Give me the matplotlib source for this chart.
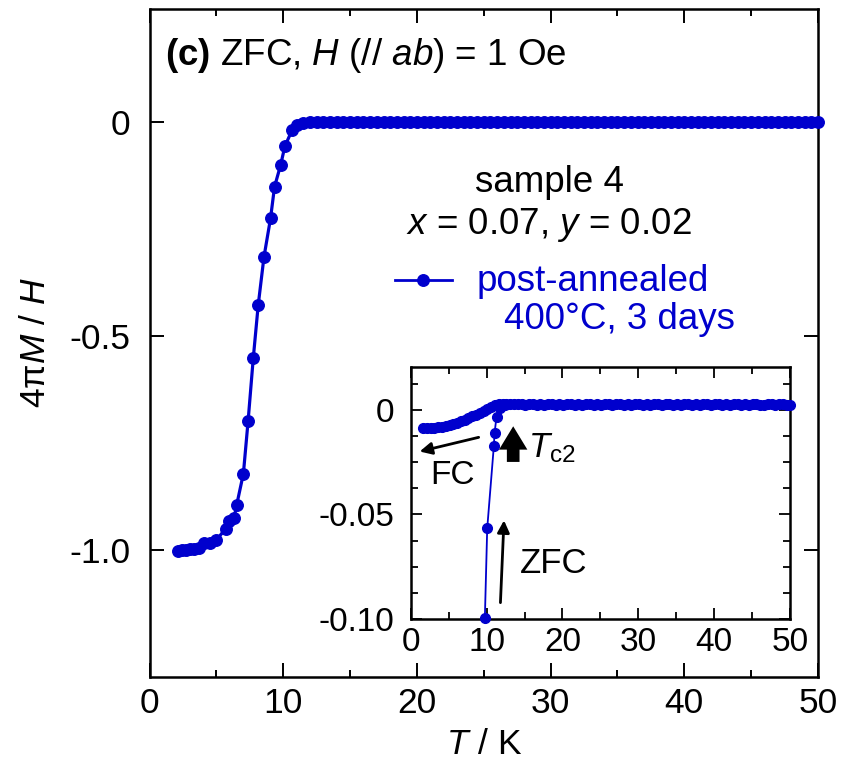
import matplotlib
matplotlib.use("Agg")
import matplotlib.pyplot as plt
from matplotlib.ticker import MultipleLocator, FixedLocator

plt.rcParams['font.family'] = ['Liberation Sans', 'DejaVu Sans']
plt.rcParams['mathtext.fontset'] = 'custom'
plt.rcParams['mathtext.rm'] = 'Liberation Sans'
plt.rcParams['mathtext.it'] = 'Liberation Sans:italic'
plt.rcParams['mathtext.bf'] = 'Liberation Sans:bold'

BLUE = '#0000cd'

# ---- main panel data (ZFC) ----
T_main = [2.1, 2.4, 2.7, 3.0, 3.3, 3.7, 4.1, 4.5, 4.96, 5.7, 5.95, 6.32, 6.52,
          7.02, 7.37, 7.76, 8.13, 8.56, 9.05, 9.35, 9.8, 10.12, 10.67, 11.04,
          11.5, 12.0, 12.5, 13.0, 13.5, 14.0, 14.5, 15.0, 15.5, 16.0, 16.5,
          17.0, 17.5, 18.0, 18.5, 19.0, 19.5, 20.0, 20.5, 21.0, 21.5, 22.0,
          22.5, 23.0, 23.5, 24.0, 24.5, 25.0, 25.5, 26.0, 26.5, 27.0, 27.5,
          28.0, 28.5, 29.0, 29.5, 30.0, 30.5, 31.0, 31.5, 32.0, 32.5, 33.0,
          33.5, 34.0, 34.5, 35.0, 35.5, 36.0, 36.5, 37.0, 37.5, 38.0, 38.5,
          39.0, 39.5, 40.0, 40.5, 41.0, 41.5, 42.0, 42.5, 43.0, 43.5, 44.0,
          44.5, 45.0, 45.5, 46.0, 46.5, 47.0, 47.5, 48.0, 48.5, 49.0, 49.5, 50.0]
M_main = [-1.003, -1.001, -1.000, -0.999, -0.997, -0.995, -0.985, -0.983,
          -0.978, -0.951, -0.933, -0.926, -0.895, -0.822, -0.700, -0.552,
          -0.428, -0.316, -0.226, -0.152, -0.102, -0.058, -0.019, -0.008,
          -0.003, -0.001, 0.000, 0.000, 0.000, 0.000, 0.000, 0.000, 0.000,
          0.000, 0.000, 0.000, 0.000, 0.000, 0.000, 0.000, 0.000, 0.000,
          0.000, 0.000, 0.000, 0.000, 0.000, 0.000, 0.000, 0.000, 0.000,
          0.000, 0.000, 0.000, 0.000, 0.000, 0.000, 0.000, 0.000, 0.000,
          0.000, 0.000, 0.000, 0.000, 0.000, 0.000, 0.000, 0.000, 0.000,
          0.000, 0.000, 0.000, 0.000, 0.000, 0.000, 0.000, 0.000, 0.000,
          0.000, 0.000, 0.000, 0.000, 0.000, 0.000, 0.000, 0.000, 0.000,
          0.000, 0.000, 0.000, 0.000, 0.000, 0.000, 0.000, 0.000, 0.000,
          0.000, 0.000, 0.000, 0.000, 0.000, 0.000]

# ---- inset data ----
T_fc = [1.6, 2.1, 2.6, 3.1, 3.6, 4.1, 4.6, 5.1, 5.6, 6.1, 6.6, 7.1, 7.6, 8.1,
        8.6, 9.1, 9.6, 10.1, 10.6, 11.1, 11.6, 12.1, 12.6, 13.1, 13.6, 14.1,
        14.6, 15.1, 15.6, 16.1, 16.6, 17.1, 17.6, 18.1, 18.6, 19.1, 19.6,
        20.1, 20.6, 21.1, 21.6, 22.1, 22.6, 23.1, 23.6, 24.1, 24.6, 25.1,
        25.6, 26.1, 26.6, 27.1, 27.6, 28.1, 28.6, 29.1, 29.6, 30.1, 30.6,
        31.1, 31.6, 32.1, 32.6, 33.1, 33.6, 34.1, 34.6, 35.1, 35.6, 36.1,
        36.6, 37.1, 37.6, 38.1, 38.6, 39.1, 39.6, 40.1, 40.6, 41.1, 41.6,
        42.1, 42.6, 43.1, 43.6, 44.1, 44.6, 45.1, 45.6, 46.1, 46.6, 47.1,
        47.6, 48.1, 48.6, 49.1, 49.6, 50.0]
M_fc = [-0.0087, -0.0087, -0.0086, -0.0085, -0.0084, -0.0081, -0.0078,
        -0.0073, -0.0067, -0.0061, -0.0054, -0.0046, -0.0039, -0.0031,
        -0.0024, -0.0016, -0.0007, 0.0004, 0.0014, 0.0022, 0.0027, 0.0029,
        0.0030, 0.0028, 0.0027, 0.0026, 0.0027, 0.0025, 0.0026, 0.0027,
        0.0025, 0.0026, 0.0024, 0.0026, 0.0027, 0.0025, 0.0026, 0.0025,
        0.0027, 0.0026, 0.0025, 0.0026, 0.0024, 0.0026, 0.0027, 0.0025,
        0.0026, 0.0025, 0.0027, 0.0026, 0.0025, 0.0026, 0.0027, 0.0025,
        0.0026, 0.0024, 0.0026, 0.0027, 0.0025, 0.0026, 0.0025, 0.0027,
        0.0026, 0.0025, 0.0026, 0.0027, 0.0025, 0.0026, 0.0024, 0.0026,
        0.0027, 0.0025, 0.0026, 0.0025, 0.0027, 0.0026, 0.0025, 0.0026,
        0.0027, 0.0025, 0.0026, 0.0024, 0.0026, 0.0027, 0.0025, 0.0026,
        0.0025, 0.0027, 0.0026, 0.0025, 0.0024, 0.0026, 0.0027, 0.0025,
        0.0026, 0.0027, 0.0025, 0.0024]
T_zfc = [9.76, 10.07, 10.95, 11.04, 11.3, 11.8, 12.4]
M_zfc = [-0.0997, -0.0567, -0.0171, -0.0111, -0.0032, 0.0010, 0.0025]

main_yticks = [0.0, -0.5, -1.0]
main_yticklabels = ['0', '-0.5', '-1.0']
inset_yticks = [0.0, -0.05, -0.10]
inset_yticklabels = ['0', '-0.05', '-0.10']

FS = 25.5     # tick labels / axis labels
FT = 26.5     # annotations in main panel
FI = 24       # inset texts

fig = plt.figure(figsize=(8.42, 7.76), dpi=100)
ax = fig.add_axes([0.1776, 0.1276, 0.7939, 0.8608])

ax.plot(T_main, M_main, '-', color=BLUE, lw=2.3, marker='o', ms=8.3,
        mec=BLUE, mfc=BLUE, clip_on=False, zorder=3)
ax.set_xlim(0, 50)
ax.set_ylim(-1.297, 0.263)
ax.xaxis.set_major_locator(MultipleLocator(10))
ax.xaxis.set_minor_locator(MultipleLocator(5))
ax.yaxis.set_major_locator(FixedLocator(main_yticks))
ax.set_yticklabels(main_yticklabels)
ax.tick_params(which='both', direction='in', top=True, right=True,
               labelsize=FS, width=1.4)
ax.tick_params(which='major', length=10)
ax.tick_params(which='minor', length=5)
ax.tick_params(axis='x', pad=7)
ax.tick_params(axis='y', pad=14)
for s in ax.spines.values():
    s.set_linewidth(1.8)
ax.set_xlabel(r'$T$ / K', fontsize=FS, labelpad=6)
ax.set_ylabel(r'4π$M$ / $H$', fontsize=FS, labelpad=12)

ax.text(0.023, 0.931, r'$\mathbf{(c)}$ ZFC, $H$ ($//$ $ab$) = 1 Oe',
        transform=ax.transAxes, fontsize=FT, va='center', ha='left')
ax.text(0.598, 0.74, 'sample 4', transform=ax.transAxes, fontsize=FT,
        ha='center', va='center')
ax.text(0.598, 0.677, r'$x$ = 0.07, $y$ = 0.02', transform=ax.transAxes,
        fontsize=FT, ha='center', va='center')
ax.plot([0.367, 0.452], [0.595, 0.595], transform=ax.transAxes, color=BLUE,
        lw=2.0, marker=None, clip_on=False)
ax.plot([0.409], [0.595], transform=ax.transAxes, color=BLUE, marker='o',
        ms=8.3, clip_on=False)
ax.text(0.489, 0.592, 'post-annealed', transform=ax.transAxes, fontsize=FT,
        color=BLUE, ha='left', va='center')
ax.text(0.531, 0.535, '400°C, 3 days', transform=ax.transAxes, fontsize=FT,
        color=BLUE, ha='left', va='center')

# ---- inset ----
ins = fig.add_axes([0.488, 0.2023, 0.450, 0.3247])
ins.plot(T_fc, M_fc, '-', color=BLUE, lw=1.2, marker='o', ms=7,
         mec=BLUE, mfc=BLUE, clip_on=False, zorder=3)
ins.plot(T_zfc, M_zfc, '-', color=BLUE, lw=1.3, marker='o', ms=7,
         mec=BLUE, mfc=BLUE, clip_on=False, zorder=3)
ins.set_xlim(0, 50)
ins.set_ylim(-0.10, 0.0205)
ins.xaxis.set_major_locator(MultipleLocator(10))
ins.xaxis.set_minor_locator(MultipleLocator(5))
ins.yaxis.set_major_locator(FixedLocator(inset_yticks))
ins.set_yticklabels(inset_yticklabels)
ins.yaxis.set_minor_locator(MultipleLocator(0.0125))
ins.tick_params(which='both', direction='in', top=True, right=True,
                labelsize=FI, width=1.3)
ins.tick_params(which='major', length=8)
ins.tick_params(which='minor', length=5)
ins.tick_params(axis='x', pad=6)
ins.tick_params(axis='y', pad=12)
for s in ins.spines.values():
    s.set_linewidth(1.8)

ins.annotate('', xy=(0.8, -0.0202), xytext=(9.3, -0.0128),
             arrowprops=dict(arrowstyle='-|>', color='black', lw=2.0,
                             mutation_scale=18))
ins.text(5.5, -0.0315, 'FC', fontsize=FI, ha='center', va='center')
ins.annotate('', xy=(13.5, -0.0065), xytext=(13.5, -0.0262),
             arrowprops=dict(arrowstyle='simple,head_length=0.7,head_width=0.85,tail_width=0.38',
                             color='black', mutation_scale=24, lw=0))
ins.text(15.5, -0.0185, r'$T$$_{\rm c2}$', fontsize=FI + 1, ha='left', va='center')
ins.annotate('', xy=(12.3, -0.0515), xytext=(11.8, -0.0935),
             arrowprops=dict(arrowstyle='-|>', color='black', lw=2.0,
                             mutation_scale=18))
ins.text(14.4, -0.0735, 'ZFC', fontsize=FI + 1, ha='left', va='center')

fig.savefig('out.png', dpi=100)
